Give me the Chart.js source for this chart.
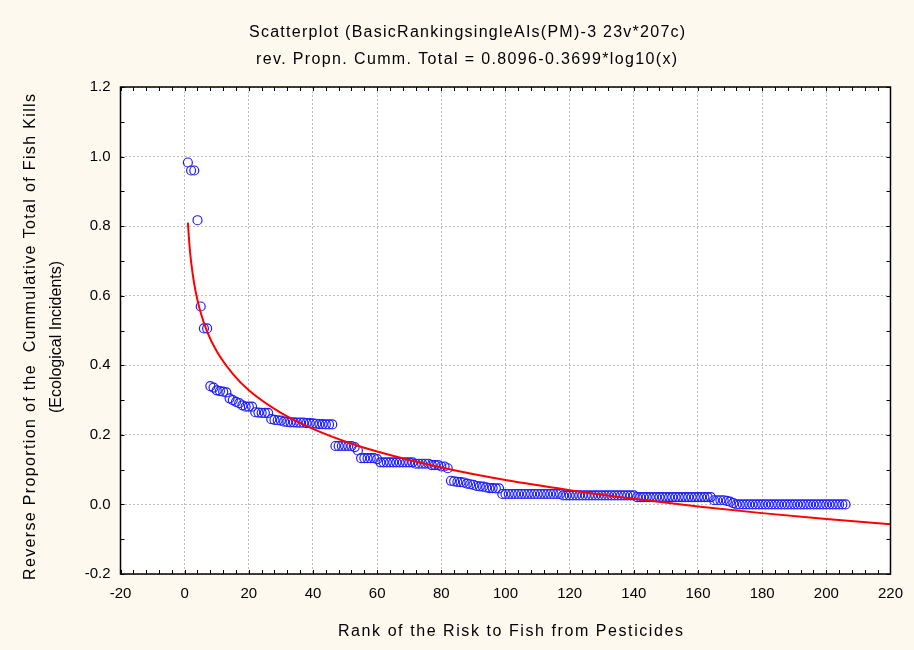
<!DOCTYPE html>
<html><head><meta charset="utf-8">
<script src="https://cdn.jsdelivr.net/npm/chart.js@4/dist/chart.umd.min.js"></script>
<style>html,body{margin:0;padding:0;background:#FEF9EE;}#wrap{width:914px;height:650px;position:relative;}</style>
</head><body><div id="wrap"><canvas id="c" width="914" height="650" style="width:914px;height:650px"></canvas></div>
<script>
// ---- data ----
const titleLines = ['Scatterplot (BasicRankingsingleAIs(PM)-3 23v*207c)', 'rev. Propn. Cumm. Total = 0.8096-0.3699*log10(x)'];
const xTitle = 'Rank of the Risk to Fish from Pesticides';
const yTitleLines = ['Reverse Proportion of the  Cummulative Total of Fish Kills', '(Ecological Incidents)'];
const xTicks = [-20, 0, 20, 40, 60, 80, 100, 120, 140, 160, 180, 200, 220];
const yTicks = [-0.2, 0.0, 0.2, 0.4, 0.6, 0.8, 1.0, 1.2];
// reverse cumulative proportion for ranks 1..206
const propValues = [
  0.983,0.960,0.960,0.817,0.569,0.506,0.506,0.340,0.336,0.328,
  0.326,0.324,0.322,0.305,0.300,0.295,0.291,0.285,0.281,0.281,
  0.281,0.265,0.264,0.263,0.263,0.263,0.245,0.243,0.242,0.241,
  0.238,0.237,0.236,0.236,0.235,0.235,0.235,0.234,0.234,0.233,
  0.232,0.231,0.231,0.230,0.230,0.230,0.168,0.168,0.168,0.168,
  0.168,0.168,0.165,0.155,0.133,0.133,0.133,0.133,0.133,0.130,
  0.121,0.121,0.121,0.121,0.121,0.121,0.121,0.121,0.121,0.121,
  0.121,0.117,0.117,0.117,0.117,0.117,0.113,0.113,0.113,0.109,
  0.109,0.104,0.068,0.066,0.065,0.064,0.063,0.060,0.058,0.056,
  0.053,0.052,0.051,0.049,0.047,0.047,0.046,0.046,0.030,0.030,
  0.030,0.030,0.030,0.030,0.030,0.030,0.030,0.030,0.030,0.030,
  0.030,0.030,0.030,0.030,0.030,0.030,0.030,0.026,0.026,0.026,
  0.026,0.026,0.026,0.026,0.026,0.026,0.026,0.026,0.026,0.026,
  0.026,0.026,0.026,0.026,0.026,0.026,0.026,0.026,0.026,0.026,
  0.021,0.021,0.021,0.021,0.021,0.021,0.021,0.021,0.021,0.021,
  0.021,0.021,0.021,0.021,0.021,0.021,0.021,0.021,0.021,0.021,
  0.021,0.021,0.021,0.021,0.012,0.012,0.012,0.012,0.010,0.008,
  0.004,0.000,0.000,0.000,0.000,0.000,0.000,0.000,0.000,0.000,
  0.000,0.000,0.000,0.000,0.000,0.000,0.000,0.000,0.000,0.000,
  0.000,0.000,0.000,0.000,0.000,0.000,0.000,0.000,0.000,0.000,
  0.000,0.000,0.000,0.000,0.000,0.000
];
// fitted curve
const fitX = [1, 1.5, 2, 3, 4, 5, 7, 10, 15, 20, 30, 40, 50, 60, 80, 100, 120, 140, 160, 180, 200, 220];
const fitY = [0.810, 0.745, 0.698, 0.633, 0.587, 0.551, 0.497, 0.440, 0.375, 0.328, 0.263, 0.217, 0.181, 0.152, 0.106, 0.070, 0.041, 0.016, -0.006, -0.025, -0.042, -0.057];

// ---- layout / style ----
const FONT = '"Liberation Sans", Arial, sans-serif';
const BG = '#FEF9EE';
const CHART = {left: 120.5, right: 900.5, top: 87, bottom: 574};

const pts = propValues.map((v, i) => ({x: i + 1, y: v}));
const fit = fitX.map((x, i) => ({x: x, y: fitY[i]}));

function spacedText(ctx, text, x, y, width) {
  ctx.letterSpacing = '0px';
  const w = ctx.measureText(text).width;
  const sp = (width - w) / Math.max(1, text.length - 1);
  ctx.letterSpacing = sp.toFixed(2) + 'px';
  ctx.textAlign = 'left';
  ctx.fillText(text, x, y);
  ctx.letterSpacing = '0px';
}

const decor = {
  id: 'decor',
  beforeDraw(chart) {
    const ctx = chart.ctx, a = chart.chartArea;
    ctx.save();
    ctx.fillStyle = BG;
    ctx.fillRect(0, 0, chart.width, chart.height);
    ctx.fillStyle = '#FFFFFF';
    ctx.fillRect(a.left, a.top, a.right - a.left, a.bottom - a.top);
    ctx.restore();
  },
  afterDraw(chart) {
    const ctx = chart.ctx, a = chart.chartArea;
    const xs = chart.scales.x, ys = chart.scales.y;
    ctx.save();
    // frame
    ctx.strokeStyle = '#000';
    ctx.lineWidth = 1.5;
    ctx.strokeRect(a.left, a.top, a.right - a.left, a.bottom - a.top);
    // inward minor ticks
    ctx.lineWidth = 1;
    ctx.beginPath();
    for (let v = xTicks[0]; v <= xTicks[xTicks.length - 1] + 1e-9; v += 4) {
      const p = Math.round(xs.getPixelForValue(v)) + 0.5;
      ctx.moveTo(p, a.bottom); ctx.lineTo(p, a.bottom - 4);
      ctx.moveTo(p, a.top); ctx.lineTo(p, a.top + 4);
    }
    for (let k = 0; k <= 14; k++) {
      const v = yTicks[0] + k * 0.1;
      const p = Math.round(ys.getPixelForValue(v)) + 0.5;
      ctx.moveTo(a.left, p); ctx.lineTo(a.left + 4, p);
      ctx.moveTo(a.right, p); ctx.lineTo(a.right - 4, p);
    }
    ctx.stroke();
    // titles
    ctx.fillStyle = '#000';
    ctx.font = '16px ' + FONT;
    ctx.textBaseline = 'middle';
    spacedText(ctx, titleLines[0], 249, 33, 436);
    spacedText(ctx, titleLines[1], 256, 60, 421);
    spacedText(ctx, xTitle, 338, 632, 345);
    ctx.translate(31, 337);
    ctx.rotate(-Math.PI / 2);
    spacedText(ctx, yTitleLines[0], -243, 0, 486);
    ctx.rotate(Math.PI / 2);
    ctx.translate(26, 0);
    ctx.rotate(-Math.PI / 2);
    spacedText(ctx, yTitleLines[1], -76, 0, 152);
    ctx.restore();
  }
};

new Chart(document.getElementById('c'), {
  type: 'scatter',
  data: {
    datasets: [
      {
        type: 'line', label: 'fit', data: fit,
        borderColor: '#FF0000', borderWidth: 2, pointRadius: 0,
        fill: false, cubicInterpolationMode: 'monotone', showLine: true
      },
      {
        label: 'points', data: pts,
        pointStyle: 'circle', pointRadius: 4.5, pointBorderWidth: 1.2,
        borderColor: '#1E1EFF', backgroundColor: 'rgba(255,255,255,0)',
        pointBackgroundColor: 'rgba(255,255,255,0)', pointBorderColor: '#1E1EFF'
      }
    ]
  },
  options: {
    responsive: false,
    animation: false,
    devicePixelRatio: 1,
    layout: {padding: {left: 0, top: CHART.top, right: 914 - CHART.right, bottom: 0}},
    plugins: {legend: {display: false}, title: {display: false}, tooltip: {enabled: false}},
    scales: {
      x: {
        type: 'linear', min: xTicks[0], max: xTicks[xTicks.length - 1],
        afterFit(s) { s.height = 650 - CHART.bottom; },
        afterBuildTicks(s) { s.ticks = xTicks.map(v => ({value: v})); },
        ticks: {color: '#000', font: {size: 15, family: FONT}, padding: 11, maxRotation: 0, autoSkip: false,
          callback: v => String(v)},
        grid: {color: '#BDBDBD', lineWidth: 1, drawTicks: false},
        border: {display: false, dash: [2, 2]}
      },
      y: {
        type: 'linear', min: yTicks[0], max: yTicks[yTicks.length - 1],
        afterFit(s) { s.width = CHART.left; },
        afterBuildTicks(s) { s.ticks = yTicks.map(v => ({value: v})); },
        ticks: {color: '#000', font: {size: 15, family: FONT}, padding: 10, autoSkip: false,
          callback: v => Number(v).toFixed(1)},
        grid: {color: '#BDBDBD', lineWidth: 1, drawTicks: false},
        border: {display: false, dash: [2, 2]}
      }
    }
  },
  plugins: [decor]
});
</script>
</body></html>
